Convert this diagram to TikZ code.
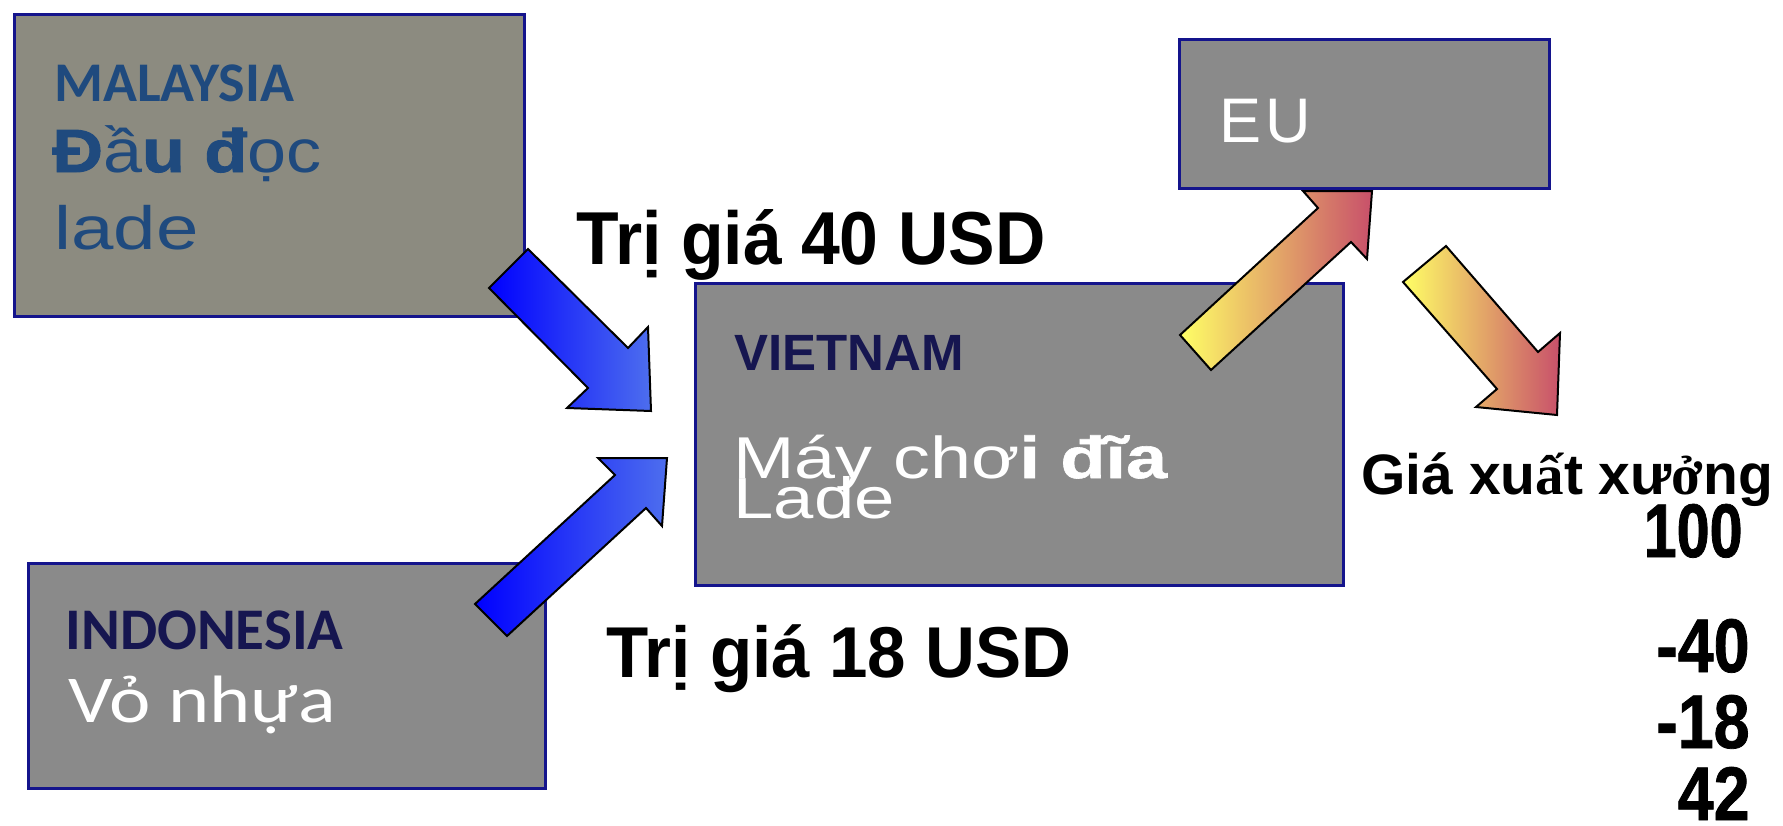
\documentclass[tikz,border=0pt]{standalone}
\usepackage{fontspec}
\setmainfont{Liberation Sans}
\newfontfamily\wideA{Liberation Sans}[FakeStretch=1.15, BoldFeatures={FakeBold=1.5}]
\newfontfamily\wideB{Liberation Sans}[FakeStretch=1.25, BoldFeatures={FakeBold=1}]
\newfontfamily\carl{Carlito}
\newfontfamily\carlwide{Carlito}[FakeStretch=1.17]
\newfontfamily\condA{Liberation Sans}[FakeStretch=0.93]
\newfontfamily\condC{Liberation Sans}[FakeStretch=0.96]
\newfontfamily\condB{Liberation Sans}[FakeStretch=0.85, BoldFeatures={FakeBold=1}]
\newfontfamily\condD{Liberation Sans}[FakeStretch=0.78, BoldFeatures={FakeBold=1}]
\newfontfamily\serifT{Liberation Serif}
\definecolor{boxline}{RGB}{20,20,140}
\definecolor{boxgray}{RGB}{138,138,138}
\definecolor{malgray}{RGB}{140,139,128}
\definecolor{malblue}{RGB}{31,74,126}
\definecolor{navytext}{RGB}{22,22,80}
\definecolor{arrblueL}{RGB}{0,0,255}
\definecolor{arrblueR}{RGB}{77,110,238}
\definecolor{arrylwL}{RGB}{255,255,102}
\definecolor{arrylwR}{RGB}{200,80,106}
\tikzset{
  box/.style={draw=boxline, line width=1.5pt, fill=boxgray, inner sep=0pt, anchor=north west},
  lbl/.style={inner sep=0pt, anchor=base west},
  lblr/.style={inner sep=0pt, anchor=base east},
  blk/.style={draw=black, line width=1pt, line join=miter},
  bluearr/.style={blk, left color=arrblueL, right color=arrblueR},
  yelarr/.style={blk, left color=arrylwL, right color=arrylwR}
}
\begin{document}
\begin{tikzpicture}[x=0.5pt,y=-0.5pt]
\useasboundingbox (0,0) rectangle (1783,825);
\fill[white] (0,0) rectangle (1783,825);

% boxes
\node[box, fill=malgray, minimum width=255pt, minimum height=151pt] (mal) at (13,13) {};
\node[box, minimum width=324pt, minimum height=151pt] (vn) at (694,282) {};
\node[box, minimum width=185pt, minimum height=74.5pt] (eu) at (1178,38) {};
\node[box, minimum width=258.5pt, minimum height=112.5pt] (indo) at (27,562) {};

% block arrows
\draw[bluearr] (528,249) -- (628,348) -- (648,327) -- (651,411) -- (567,408) -- (588,388) -- (489,288) -- cycle;
\draw[bluearr] (475,604) -- (615,475) -- (598,458) -- (667,458) -- (662,526) -- (646,508) -- (507,636) -- cycle;
\draw[yelarr] (1180,335) -- (1318,208) -- (1303,191) -- (1372,191) -- (1367,259) -- (1351,242) -- (1211,370) -- cycle;
\draw[yelarr] (1403,282) -- (1446,246) -- (1538,352) -- (1560,333) -- (1557,415) -- (1476,407) -- (1497,389) -- cycle;

% texts in boxes
\node[lbl, text=malblue] (malT) at (54,101) {\carl\bfseries\fontsize{28pt}{31pt}\selectfont MALAYSIA};
\node[lbl, text=malblue] (malA) at (52,172) {\wideA\fontsize{30.5pt}{34pt}\selectfont{\bfseries Đ}ầ{\bfseries u} {\bfseries đ}ọc};
\node[lbl, text=malblue] (malB) at (54,249) {\wideB\fontsize{30.5pt}{34pt}\selectfont lade};

\node[lbl, text=navytext] (vnT) at (734,370) {\bfseries\fontsize{25.5pt}{28pt}\selectfont VIETNAM};
\node[lbl, text=white] (vnA) at (733,478) {\wideB\fontsize{29.5pt}{33pt}\selectfont Máy chơ{\bfseries i đĩa}};
\node[lbl, text=white] (vnB) at (733,518) {\wideB\fontsize{29pt}{33pt}\selectfont Lade};

\node[lbl, text=white] (euT) at (1219,142) {\fontsize{31.5pt}{35pt}\selectfont E\kern2pt U};

\node[lbl, text=navytext] (indoT) at (65,649) {\carl\bfseries\fontsize{29.5pt}{32pt}\selectfont INDONESIA};
\node[lbl, text=white] (indoA) at (68,722) {\carlwide\fontsize{33.5pt}{37pt}\selectfont Vỏ nhựa};

% value labels
\node[lbl] (v40) at (576,264) {\condA\bfseries\fontsize{37.5pt}{41pt}\selectfont Trị giá 40 USD};
\node[lbl] (v18) at (606,677) {\condC\bfseries\fontsize{36pt}{40pt}\selectfont Trị giá 18 USD};

\node[lbl] (gxx) at (1361,494) {\bfseries\fontsize{28.5pt}{32pt}\selectfont Giá xu{\serifT\bfseries ấ}t xư{\serifT\bfseries ở}ng};
\node[lblr] (n100) at (1743,557) {\condD\bfseries\fontsize{38pt}{40pt}\selectfont 100};
\node[lblr] (n40) at (1750,672) {\condB\bfseries\fontsize{38pt}{40pt}\selectfont -40};
\node[lblr] (n18) at (1750,748) {\condB\bfseries\fontsize{38pt}{40pt}\selectfont -18};
\node[lblr] (n42) at (1750,820) {\condB\bfseries\fontsize{38pt}{40pt}\selectfont 42};
\end{tikzpicture}
\end{document}
